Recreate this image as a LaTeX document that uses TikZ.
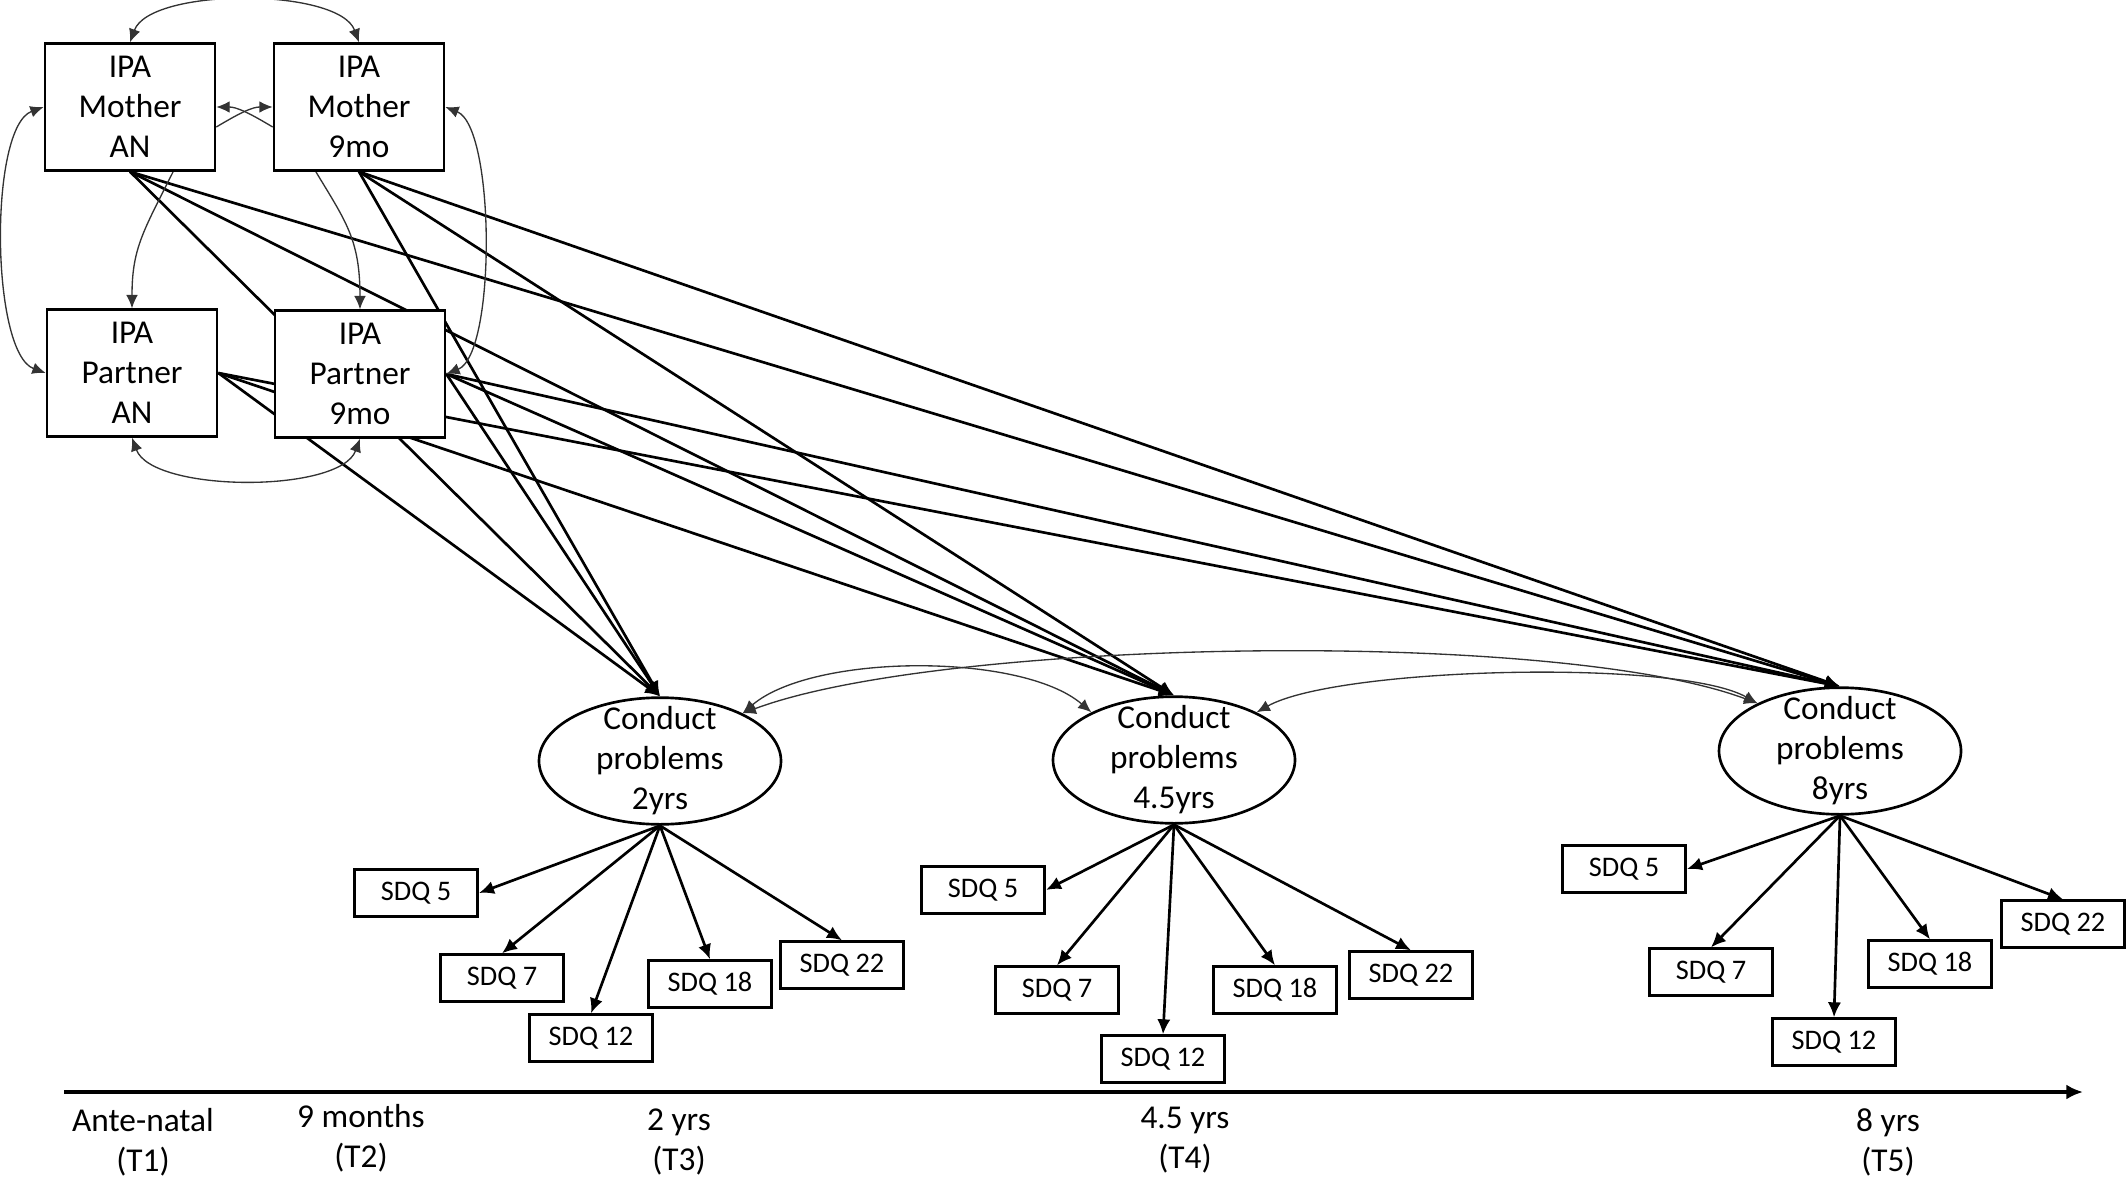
\documentclass[tikz,border=0pt]{standalone}
\usepackage{fontspec}
\setmainfont{Carlito}
\usetikzlibrary{arrows.meta}
\usetikzlibrary{shapes.geometric}
\usetikzlibrary{calc,backgrounds}

\begin{document}
\begin{tikzpicture}[x=0.3pt,y=-0.3pt,
	ipanode/.style={rectangle,draw,fill=white,line width=0.8pt,minimum width=51pt,minimum height=38pt,inner sep=0pt,align=center,font=\fontsize{10}{12}\selectfont},
	latnode/.style={ellipse,draw,fill=white,line width=0.8pt,minimum width=72.6pt,minimum height=38pt,inner sep=-4pt,align=center,font=\fontsize{10}{12}\selectfont},
	sdqnode/.style={rectangle,draw,fill=white,line width=0.8pt,minimum width=37pt,minimum height=14pt,inner sep=0pt,font=\fontsize{8.5}{10}\selectfont},
	timenode/.style={align=center,font=\fontsize{10}{12}\selectfont},
	regedge/.style={line width=0.8pt,-{Latex[length=4.5pt,width=4pt]}},
	covedge/.style={line width=0.4pt,draw=black!80,{Latex[length=4pt,width=3.5pt]}-{Latex[length=4pt,width=3.5pt]}},
	pathedge/.style={line width=0.4pt,draw=black!80,-{Latex[length=4pt,width=3.5pt]}}
]
\useasboundingbox (0,0) rectangle (2128,1179);

\node (mAN) [ipanode] at (130,107) {IPA\\Mother\\AN};
\node (m9) [ipanode] at (359,107) {IPA\\Mother\\9mo};
\node (pAN) [ipanode] at (132,373) {IPA\\Partner\\AN};
\node (p9) [ipanode] at (360,374) {IPA\\Partner\\9mo};

\node (cp2) [latnode] at (660,761) {Conduct\\problems\\2yrs};
\node (cp45) [latnode] at (1174,760) {Conduct\\problems\\4.5yrs};
\node (cp8) [latnode] at (1840,751) {Conduct\\problems\\8yrs};

% indicators
\foreach \g/\i/\x/\y in {a/5/416/893, a/7/502/978, a/12/591/1038, a/18/710/984, a/22/842/965,
                         b/5/983/890, b/7/1057/990, b/12/1163/1059, b/18/1275/990, b/22/1411/975,
                         c/5/1624/869, c/7/1711/972, c/12/1834/1042, c/18/1930/964, c/22/2063/924}
  \node (\g\i) [sdqnode] at (\x,\y) {SDQ \i};

% time axis
\coordinate (t0) at (64,1092);
\coordinate (t1) at (2083,1092);
\node (tT1) [timenode] at (143,1142) {Ante-natal\\(T1)};
\node (tT2) [timenode] at (361,1138) {9 months\\(T2)};
\node (tT3) [timenode] at (679,1142) {2 yrs\\(T3)};
\node (tT4) [timenode] at (1185,1140) {4.5 yrs\\(T4)};
\node (tT5) [timenode] at (1888,1142) {8 yrs\\(T5)};

\begin{scope}[on background layer]
\foreach \s/\a in {mAN/south,m9/south,pAN/east,p9/east}
  \foreach \t in {cp2,cp45,cp8}
    \draw[regedge] (\s.\a) -- (\t.north);

\foreach \g/\c in {a/cp2,b/cp45,c/cp8} {
  \draw[regedge] (\c.south) -- (\g5.east);
  \foreach \i in {7,12,18,22}
    \draw[regedge] (\c.south) -- (\g\i.north);
}

\draw[covedge] (mAN.north) .. controls +(20,-55) and +(-20,-55) .. (m9.north);
\draw[covedge] (mAN.west) .. controls +(-55,20) and +(-55,-20) .. (pAN.west);
\draw[covedge] (m9.east) .. controls +(50,20) and +(50,-20) .. (p9.east);
\draw[covedge] (pAN.south) .. controls +(20,55) and +(-20,55) .. (p9.south);
\draw[pathedge] ($(mAN.south)!.5!(mAN.south east)$) .. controls +(-30,60) and +(0,-60) .. (pAN.north);
\draw[pathedge] ($(m9.south)!.5!(m9.south west)$) .. controls +(30,50) and +(0,-70) .. (p9.north);
\draw[pathedge] ($(mAN.east)+(0,20)$) .. controls +(25,-15) and +(-20,0) .. (m9.west);
\draw[pathedge] ($(m9.west)+(0,20)$) .. controls +(-25,-15) and +(20,0) .. (mAN.east);

\draw[covedge] (cp2.30) .. controls +(70,-60) and +(-70,-60) .. (cp45.150);
\draw[covedge] (cp2.30) .. controls +(200,-75) and +(-200,-75) .. (cp8.150);
\draw[covedge] (cp45.30) .. controls +(80,-45) and +(-80,-45) .. (cp8.150);

\draw[line width=1pt,-{Latex[length=5pt,width=4.5pt]}] (t0) -- (t1);
\end{scope}
\end{tikzpicture}
\end{document}
